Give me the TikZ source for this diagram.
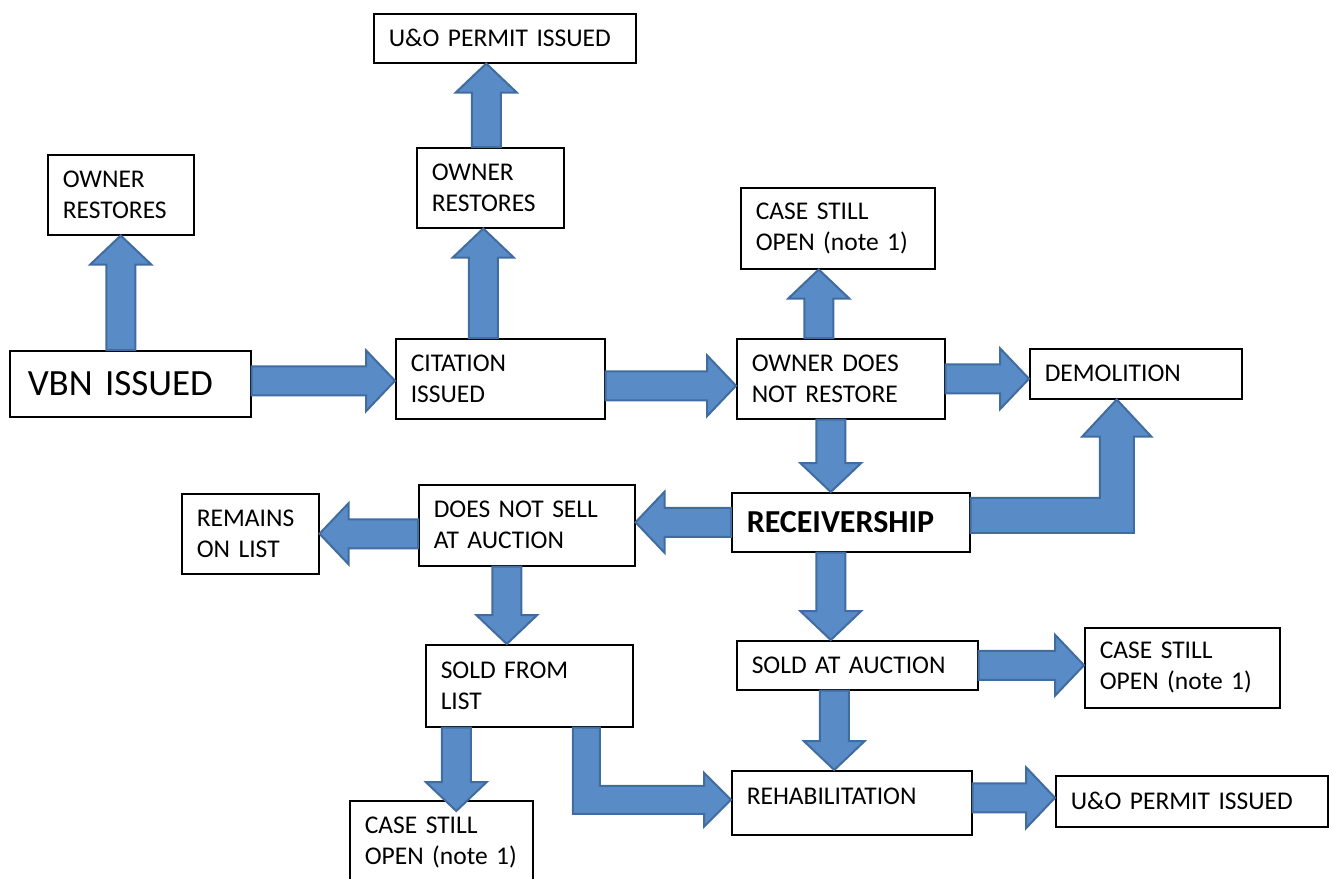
\documentclass[tikz,border=0pt]{standalone}
\usepackage{fontspec}
\setmainfont{Carlito}
\usetikzlibrary{calc}

\definecolor{arrowfill}{RGB}{89,139,198}
\definecolor{arrowline}{RGB}{64,108,160}

\newcommand{\boxfont}{\fontsize{25.5}{31}\selectfont}

\tikzset{
  box/.style={draw=black, line width=1.5pt, fill=white, anchor=north west,
    inner xsep=15pt, inner ysep=0pt, align=left, font=\boxfont},
  bigarrow/.style={fill=arrowfill, draw=arrowline, line width=2pt, line join=miter}
}

% straight block arrow from #1 to #2
\newcommand{\blockarrow}[2]{%
  \coordinate (bs) at #1;
  \coordinate (be) at #2;
  \coordinate (bh) at ($(be)!29pt!(bs)$);
  \draw[bigarrow] ($(bs)!14.5pt!90:(be)$) -- ($(bh)!14.5pt!90:(be)$) -- ($(bh)!30.5pt!90:(be)$) -- (be)
    -- ($(bh)!30.5pt!-90:(be)$) -- ($(bh)!14.5pt!-90:(be)$) -- ($(bs)!14.5pt!-90:(be)$) -- cycle;
}

\begin{document}
\begin{tikzpicture}[x=1pt, y=-1pt]
    \path[use as bounding box, clip] (0,0) rectangle (1333,878);

    % Boxes
    \node[box, text width=232pt, minimum height=49pt] (uo1) at (373,13) {U\&O PERMIT ISSUED};
    \node[box, text width=116pt, minimum height=80pt] (ownl) at (47,154) {OWNER\\RESTORES};
    \node[box, text width=117pt, minimum height=80pt] (ownm) at (416,147) {OWNER\\RESTORES};
    \node[box, inner xsep=18pt, text width=205pt, minimum height=66pt, font=\fontsize{37}{44}\selectfont] (vbn) at (9,350) {VBN ISSUED};
    \node[box, text width=179pt, minimum height=80pt] (cit) at (395,338) {CITATION\\ISSUED};
    \node[box, text width=164pt, minimum height=81pt] (casetop) at (740,187) {CASE STILL\\OPEN (note 1)};
    \node[box, text width=178pt, minimum height=80pt] (ownnot) at (736,338) {OWNER DOES\\NOT RESTORE};
    \node[box, text width=182pt, minimum height=50pt] (demo) at (1029,348) {DEMOLITION};
    \node[box, text width=208pt, minimum height=59pt, font=\fontsize{32}{38}\selectfont\bfseries] (rec) at (731,492) {RECEIVERSHIP};
    \node[box, text width=107pt, minimum height=80pt] (remains) at (181,493) {REMAINS\\ON LIST};
    \node[box, text width=186pt, minimum height=81pt] (dns) at (418,484) {DOES NOT SELL\\AT AUCTION};
    \node[box, text width=177pt, minimum height=82pt] (sfl) at (425,644) {SOLD FROM\\LIST};
    \node[box, text width=153pt, minimum height=84pt] (casebot) at (349,800) {CASE STILL\\OPEN (note 1)};
    \node[box, text width=211pt, minimum height=49pt] (saa) at (736,640) {SOLD AT AUCTION};
    \node[box, text width=165pt, minimum height=80pt] (caser) at (1084,627) {CASE STILL\\OPEN (note 1)};
    \node[box, text width=210pt, minimum height=64pt, text depth=14pt] (rehab) at (731,770) {REHABILITATION};
    \node[box, text width=242pt, minimum height=51pt] (uo2) at (1055,775) {U\&O PERMIT ISSUED};

    % Straight arrows
    \blockarrow{(ownl.south |- vbn.north)}{(ownl.south)}
    \blockarrow{([xshift=-7pt]ownm.south |- cit.north)}{([xshift=-7pt]ownm.south)}
    \blockarrow{([xshift=-4pt]ownm.north)}{([xshift=-4pt]ownm.north |- uo1.south)}
    \blockarrow{([yshift=3pt]vbn.east)}{([yshift=3pt]cit.west |- vbn.east)}
    \blockarrow{([yshift=-7pt]cit.east)}{([yshift=-7pt]ownnot.west)}
    \blockarrow{([xshift=-19pt]casetop.south |- ownnot.north)}{([xshift=-19pt]casetop.south)}
    \blockarrow{(ownnot.east)}{(demo.west |- ownnot.east)}
    \blockarrow{([xshift=-10pt]ownnot.south)}{([xshift=-10pt]ownnot.south |- rec.north)}
    \blockarrow{(rec.west)}{(dns.east |- rec.west)}
    \blockarrow{(dns.west |- remains.east)}{(remains.east)}
    \blockarrow{([xshift=-20pt]dns.south)}{([xshift=-20pt]dns.south |- sfl.north)}
    \blockarrow{([xshift=15pt]casebot.north |- sfl.south)}{([xshift=15pt,yshift=-11pt]casebot.north)}
    \blockarrow{([xshift=-20pt]rec.south)}{([xshift=-20pt]rec.south |- saa.north)}
    \blockarrow{(saa.east)}{(caser.west |- saa.east)}
    \blockarrow{([xshift=-23pt]saa.south)}{([xshift=-23pt]saa.south |- rehab.north)}
    \blockarrow{([yshift=5pt]rehab.east)}{([yshift=5pt]uo2.west |- rehab.east)}

    % Elbow arrows
    \draw[bigarrow] let \p1=([yshift=7pt]rec.east), \p2=([xshift=-19pt]demo.south) in
        (\x1,{\y1+17.5pt}) -- ({\x2-17pt},{\y1+17.5pt}) -- ({\x2-17pt},{\y2-37pt}) -- ({\x2-34.5pt},{\y2-37pt})
        -- (\x2,\y2) -- ({\x2+34.5pt},{\y2-37pt}) -- ({\x2+17pt},{\y2-37pt}) -- ({\x2+17pt},{\y1-17.5pt})
        -- (\x1,{\y1-17.5pt}) -- cycle;
    \draw[bigarrow] let \p1=([xshift=57pt]sfl.south), \p2=([yshift=3pt]rehab.west) in
        ({\x1-13.5pt},\y1) -- ({\x1+13.5pt},\y1) -- ({\x1+13.5pt},{\y2+14pt}) -- ({\x2-27pt},{\y2+14pt})
        -- ({\x2-27pt},{\y2+27pt}) -- (\x2,\y2) -- ({\x2-27pt},{\y2-27pt}) -- ({\x2-27pt},{\y2-14pt})
        -- ({\x1-13.5pt},{\y2-14pt}) -- cycle;
\end{tikzpicture}
\end{document}
